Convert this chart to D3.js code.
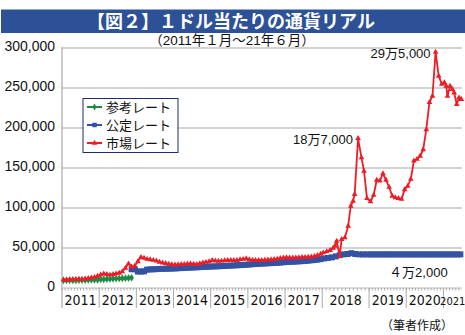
<!DOCTYPE html>
<html><head><meta charset="utf-8">
<script src="https://cdn.jsdelivr.net/npm/d3@7"></script>
<style>body{margin:0;background:#fff}svg{display:block}</style>
</head><body><svg id="c" width="465" height="335"></svg>
<script>
const titleText = "【図２】１ドル当たりの通貨リアル";
const subtitleText = "（2011年１月～21年６月）";
const sourceText = "（筆者作成）";
const yTicks = [0, 50000, 100000, 150000, 200000, 250000, 300000];
const yearLabels = ["2011","2012","2013","2014","2015","2016","2017","2018","2019","2020","2021"];
const seriesNames = ["参考レート", "公定レート", "市場レート"];
const seriesColors = ["#1f8a45", "#3452a2", "#ee1c25"];

const referenceRate = [
 ["2011-01",9500],["2011-02",9550],["2011-03",9600],["2011-04",9650],["2011-05",9700],["2011-06",9800],
 ["2011-07",9900],["2011-08",10000],["2011-09",10100],["2011-10",10200],["2011-11",10300],["2011-12",10400],
 ["2012-01",10800],["2012-02",11000],["2012-03",11200],["2012-04",11400],["2012-05",11600],["2012-06",11800],
 ["2012-07",12000],["2012-08",12100],["2012-09",12300],["2012-10",12500],["2012-11",12800]
];

const officialRate = [
 ["2012-11",23500],["2012-12",23500],
 ["2013-01",20600],["2013-02",20600],["2013-03",20800],["2013-04",23000],["2013-05",23200],["2013-06",23400],
 ["2013-07",23600],["2013-08",23800],["2013-09",24000],["2013-10",24100],["2013-11",24200],["2013-12",24300],
 ["2014-01",24500],["2014-02",24700],["2014-03",24900],["2014-04",25100],["2014-05",25300],["2014-06",25500],
 ["2014-07",25700],["2014-08",25900],["2014-09",26100],["2014-10",26300],["2014-11",26500],["2014-12",26700],
 ["2015-01",26900],["2015-02",27000],["2015-03",27200],["2015-04",27400],["2015-05",27600],["2015-06",27800],
 ["2015-07",28000],["2015-08",28200],["2015-09",28400],["2015-10",28600],["2015-11",28800],["2015-12",29100],
 ["2016-01",29400],["2016-02",29700],["2016-03",30000],["2016-04",30200],["2016-05",30500],["2016-06",30700],
 ["2016-07",30900],["2016-08",31100],["2016-09",31300],["2016-10",31500],["2016-11",31800],["2016-12",32200],
 ["2017-01",32500],["2017-02",32700],["2017-03",32900],["2017-04",33100],["2017-05",33300],["2017-06",33600],
 ["2017-07",33900],["2017-08",34200],["2017-09",34600],["2017-10",35000],["2017-11",35500],["2017-12",36100],
 ["2018-01",37000],["2018-02",37600],["2018-03",38300],["2018-04",39500],["2018-05",41000],["2018-06",42000],
 ["2018-07",42500],["2018-08",43500],["2018-09",42500],["2018-10",42000],["2018-11",42000],["2018-12",42000],
 ["2019-01",42000],["2019-02",42000],["2019-03",42000],["2019-04",42000],["2019-05",42000],["2019-06",42000],
 ["2019-07",42000],["2019-08",42000],["2019-09",42000],["2019-10",42000],["2019-11",42000],["2019-12",42000],
 ["2020-01",42000],["2020-02",42000],["2020-03",42000],["2020-04",42000],["2020-05",42000],["2020-06",42000],
 ["2020-07",42000],["2020-08",42000],["2020-09",42000],["2020-10",42000],["2020-11",42000],["2020-12",42000],
 ["2021-01",42000],["2021-02",42000],["2021-03",42000],["2021-04",42000],["2021-05",42000],["2021-06",42000]
];

const marketRate = [
 ["2011-01",10200],["2011-02",10300],["2011-03",10500],["2011-04",10700],["2011-05",10900],["2011-06",11100],
 ["2011-07",11200],["2011-08",11500],["2011-09",12100],["2011-10",12800],["2011-11",13500],["2011-12",15000],
 ["2012-01",16500],["2012-02",17900],["2012-03",17000],["2012-04",16300],["2012-05",17200],["2012-06",17900],
 ["2012-07",18700],["2012-08",20500],["2012-09",25000],["2012-10",30400],["2012-11",26500],["2012-12",27500],
 ["2013-01",33000],["2013-02",38500],["2013-03",37500],["2013-04",36000],["2013-05",35500],["2013-06",34800],
 ["2013-07",34000],["2013-08",32500],["2013-09",31500],["2013-10",30800],["2013-11",30000],["2013-12",29200],
 ["2014-01",29000],["2014-02",29300],["2014-03",29600],["2014-04",29800],["2014-05",30200],["2014-06",30400],
 ["2014-07",30000],["2014-08",29700],["2014-09",30500],["2014-10",31600],["2014-11",32300],["2014-12",33000],
 ["2015-01",34500],["2015-02",34000],["2015-03",33700],["2015-04",33800],["2015-05",34200],["2015-06",34600],
 ["2015-07",34800],["2015-08",34500],["2015-09",34600],["2015-10",35500],["2015-11",36000],["2015-12",36800],
 ["2016-01",35500],["2016-02",35000],["2016-03",34800],["2016-04",34600],["2016-05",34800],["2016-06",35000],
 ["2016-07",35200],["2016-08",35500],["2016-09",35800],["2016-10",36300],["2016-11",37000],["2016-12",37900],
 ["2017-01",38000],["2017-02",37800],["2017-03",37700],["2017-04",37900],["2017-05",38100],["2017-06",38300],
 ["2017-07",38500],["2017-08",38700],["2017-09",39000],["2017-10",39800],["2017-11",40800],["2017-12",42500],
 ["2018-01-08",44100],["2018-02-05",45500],["2018-03-01",47100],["2018-03-25",50000],["2018-04-08",52500],
 ["2018-04-22",58700],["2018-05-15",40000],["2018-05-30",60900],["2018-06-25",62900],["2018-07-20",77500],
 ["2018-08-10",102500],["2018-08-28",108700],["2018-09-10",117000],["2018-10-06",187000],["2018-11-02",162900],
 ["2018-11-22",146200],["2018-12-15",112100],
 ["2019-01",108000],["2019-02",116000],["2019-03",135000],["2019-04",134000],["2019-05",143000],["2019-06",135000],
 ["2019-07",126000],["2019-08",115000],["2019-09",113000],["2019-10",112000],["2019-11",111000],["2019-12",123000],
 ["2020-01",127500],["2020-02",136000],["2020-03",159000],["2020-04",161000],["2020-05",165000],["2020-06",173000],
 ["2020-07",198000],["2020-08",232000],["2020-09",240000],["2020-10",295000],["2020-11",265000],["2020-12",255000],
 ["2021-01-10",256700],["2021-01-28",252500],["2021-02-10",240000],["2021-03-05",252500],["2021-03-28",248300],
 ["2021-04-15",244000],["2021-05-10",229600],["2021-06-01",237900],["2021-06-25",235900]
];

const peakLabels = [["2018-10-06","18万7,000"],["2020-10","29万5,000"]];
const officialNote = ["2019-07","４万2,000"];

// ---- helpers ----
function toYear(s){
  const p = s.split("-").map(Number);
  const d = p.length > 2 ? p[2] : 15;
  return p[0] + (p[1] - 1 + (d - 0.5) / 30.5) / 12;
}

const svg = d3.select("#c");
const PL = 62, PR = 462, PT = 48, PB = 288;
const w2018 = 1.26;
const unit = (PR - PL) / (9.5 + w2018);
const x = d3.scaleLinear()
  .domain([2011, 2018, 2019, 2021.5])
  .range([PL, PL + 7 * unit, PL + (7 + w2018) * unit, PR]);
const y = d3.scaleLinear().domain([0, 300000]).range([PB, PT]);

const latin = "'Liberation Sans', Arial, 'Noto Sans CJK JP', sans-serif";
const narrow = "'Liberation Sans Narrow', 'Arial Narrow', 'DejaVu Sans Condensed', sans-serif";
const cjk = "'Noto Sans CJK JP', sans-serif";

// title bar
svg.append("rect").attr("x", 1).attr("y", 9.5).attr("width", 464).attr("height", 23.5).attr("fill", "#2c5196");
svg.append("text").attr("x", 231).attr("y", 27.5).attr("text-anchor", "middle")
  .attr("fill", "#fff").attr("font-family", cjk).attr("font-size", 18).attr("font-weight", 700)
  .text(titleText);
svg.append("text").attr("x", 232).attr("y", 44.5).attr("text-anchor", "middle")
  .attr("fill", "#111").attr("font-family", latin).attr("font-size", 13.5)
  .text(subtitleText);

// gridlines
svg.append("g").selectAll("line").data(yTicks.filter(d => d > 0)).join("line")
  .attr("x1", PL).attr("x2", PR).attr("y1", d => y(d)).attr("y2", d => y(d))
  .attr("stroke", "#c4c4c4").attr("stroke-width", 1.3);

// y labels
svg.append("g").selectAll("text").data(yTicks).join("text")
  .attr("x", 55).attr("y", d => y(d) + 2.5).attr("text-anchor", "end")
  .attr("font-family", latin).attr("font-size", 14).attr("fill", "#111")
  .text(d => d3.format(",")(d));

// axes
svg.append("line").attr("x1", PL).attr("x2", PL).attr("y1", PT - 1).attr("y2", 308)
  .attr("stroke", "#a8a8a8").attr("stroke-width", 1.2);
svg.append("line").attr("x1", PL).attr("x2", PR).attr("y1", PB).attr("y2", PB)
  .attr("stroke", "#b8b8b8").attr("stroke-width", 1);
const months = d3.range(0, 126).map(m => 2011 + m / 12);
svg.append("g").selectAll("line").data(months).join("line")
  .attr("x1", d => x(d)).attr("x2", d => x(d)).attr("y1", PB).attr("y2", PB + 2.5)
  .attr("stroke", "#9a9a9a").attr("stroke-width", 0.8);
const bounds = yearLabels.map(d => +d).slice(1);
svg.append("g").selectAll("line").data(bounds).join("line")
  .attr("x1", d => x(d)).attr("x2", d => x(d)).attr("y1", PB).attr("y2", 308)
  .attr("stroke", "#aaaaaa").attr("stroke-width", 1);
svg.append("g").selectAll("text").data(yearLabels).join("text")
  .attr("x", d => (x(+d) + x(Math.min(+d + 1, 2021.5))) / 2).attr("y", 305)
  .attr("text-anchor", "middle").attr("font-family", narrow)
  .attr("font-size", d => d === "2021" ? 11 : 14)
  .attr("fill", "#111")
  .text(d => d);

// series
const line = d3.line().x(d => x(toYear(d[0]))).y(d => y(d[1]));
function drawSeries(data, color, width, symbol, size){
  svg.append("path").datum(data).attr("d", line).attr("fill", "none")
    .attr("stroke", color).attr("stroke-width", width).attr("stroke-linejoin", "round");
  svg.append("g").selectAll("path").data(data).join("path")
    .attr("transform", d => `translate(${x(toYear(d[0]))},${y(d[1])})`)
    .attr("d", d3.symbol().type(symbol).size(size)).attr("fill", color);
}
drawSeries(referenceRate, seriesColors[0], 2.5, d3.symbolDiamond, 18);
drawSeries(officialRate, seriesColors[1], 4.5, d3.symbolSquare, 36);
drawSeries(marketRate, seriesColors[2], 1.8, d3.symbolTriangle, 14);

// annotations
svg.append("g").selectAll("text").data(peakLabels).join("text")
  .attr("x", d => x(toYear(d[0])) - 5)
  .attr("y", d => y(marketRate.find(m => m[0] === d[0])[1]) + 6)
  .attr("text-anchor", "end").attr("font-family", latin).attr("font-size", 13).attr("fill", "#111")
  .text(d => d[1]);
svg.append("text").attr("x", x(toYear(officialNote[0]))).attr("y", y(42000) + 23)
  .attr("font-family", latin).attr("font-size", 13).attr("fill", "#111").text(officialNote[1]);
svg.append("text").attr("x", 453).attr("y", 330).attr("text-anchor", "end")
  .attr("font-family", cjk).attr("font-size", 12).attr("fill", "#111").text(sourceText);

// legend
const lg = svg.append("g").attr("transform", "translate(83,98.5)");
lg.append("rect").attr("width", 95).attr("height", 54).attr("fill", "#fff")
  .attr("stroke", "#1f2a6e").attr("stroke-width", 1);
const symbols = [d3.symbolDiamond, d3.symbolSquare, d3.symbolTriangle];
const sizes = [14, 20, 14];
seriesNames.forEach((n, i) => {
  const yy = 8.5 + i * 18;
  lg.append("line").attr("x1", 4).attr("x2", 19).attr("y1", yy).attr("y2", yy)
    .attr("stroke", seriesColors[i]).attr("stroke-width", 2);
  lg.append("path").attr("transform", `translate(11.5,${yy})`)
    .attr("d", d3.symbol().type(symbols[i]).size(sizes[i])).attr("fill", seriesColors[i]);
  lg.append("text").attr("x", 23).attr("y", yy + 4.5).attr("font-family", cjk).attr("font-size", 13)
    .attr("fill", "#111").text(n);
});
</script>
</body></html>
